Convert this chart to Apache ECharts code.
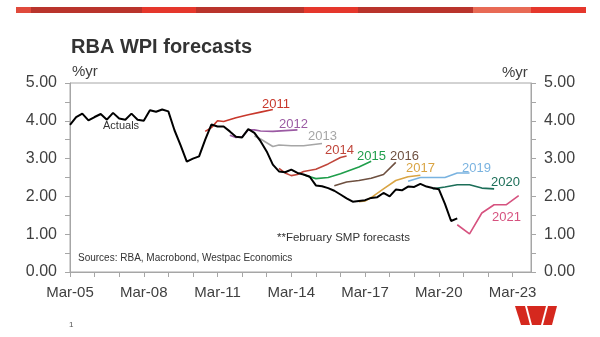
<!DOCTYPE html>
<html>
<head>
<meta charset="utf-8">
<script src="https://cdn.jsdelivr.net/npm/echarts@6/dist/echarts.min.js"></script>
<style>
html,body{margin:0;padding:0;background:#fff;}
#chart{width:600px;height:337px;}
</style>
</head>
<body>
<div id="chart"></div>
<script>
// ---- Data ----
const monthNames = ['Mar', 'Jun', 'Sep', 'Dec'];
const firstYear = 2005;
const lastYear = 2023;
const tickLabels = ['Mar-05', 'Mar-08', 'Mar-11', 'Mar-14', 'Mar-17', 'Mar-20', 'Mar-23'];
const yTicks = [0, 1, 2, 3, 4, 5];

// Actual WPI growth, quarterly from Mar-05
const actuals = [3.89, 4.10, 4.19, 4.01, 4.10, 4.18, 4.03, 4.21, 4.06, 4.03, 4.19, 4.03, 4.00, 4.28, 4.24, 4.30,
  4.25, 3.75, 3.35, 2.92, 3.00, 3.06, 3.50, 3.90, 3.85, 3.85, 3.72, 3.58, 3.56, 3.78, 3.68, 3.46,
  3.19, 2.84, 2.66, 2.64, 2.71, 2.62, 2.58, 2.52, 2.29, 2.27, 2.22, 2.15, 2.05, 1.95, 1.86, 1.88,
  1.90, 1.96, 1.98, 2.09, 2.00, 2.18, 2.16, 2.26, 2.25, 2.33, 2.26, 2.22, 2.19, 1.80, 1.35, 1.42];
const actualsStart = 'Mar-05';

// February SMP forecasts (null = no printed point; line drawn straight across)
const f2011Start = 'Sep-10';
const f2011 = [3.72, 3.82, 4.00, 3.98, null, 4.08, null, 4.16, null, 4.23, null, 4.30];
const f2012Start = 'Sep-11';
const f2012 = [3.62, 3.56, 3.58, 3.76, 3.76, 3.73, null, 3.72, null, null, null, 3.76];
const f2013Start = 'Sep-12';
const f2013 = [3.60, 3.52, 3.42, 3.32, 3.36, null, 3.34, null, 3.34, null, null, 3.40];
const f2014Start = 'Sep-13';
const f2014 = [2.74, 2.62, 2.55, 2.58, 2.66, null, 2.72, null, 2.86, null, 3.03, 3.07];
const f2015Start = 'Sep-14';
const f2015 = [2.57, null, 2.47, null, 2.50, null, 2.60, null, null, 2.78, null, 2.93];
const f2016Start = 'Dec-15';
const f2016 = [2.28, null, 2.38, null, 2.42, null, 2.48, null, 2.58, null, 2.90];
const f2017Start = 'Dec-16';
const f2017 = [1.86, 1.88, 1.97, null, 2.20, null, 2.42, null, 2.52, null, 2.56];
const f2019Start = 'Dec-18';
const f2019 = [2.40, null, 2.50, null, 2.50, null, 2.50, null, 2.62, null, 2.62];
const f2020Start = 'Dec-19';
const f2020 = [2.20, null, 2.25, null, 2.31, null, 2.31, null, 2.22, null, 2.20];
const f2021Start = 'Dec-20';
const f2021 = [1.25, null, 1.01, null, 1.56, null, 1.78, null, 1.78, null, 2.02];

// ---- Build categories ----
const quarters = [];
for (let y = firstYear; y <= lastYear; y++) {
  for (const m of monthNames) quarters.push(m + '-' + String(y % 100).padStart(2, '0'));
}
function place(start, values) {
  const arr = new Array(quarters.length).fill(null);
  const s = quarters.indexOf(start);
  values.forEach((v, i) => { arr[s + i] = v; });
  return arr;
}

const FONT = '"Liberation Sans", Arial, sans-serif';
const axisGray = '#a6a6a6';
const txt = '#404040';

const forecasts = [
  { name: '2011', start: f2011Start, values: f2011, color: '#c8382c' },
  { name: '2012', start: f2012Start, values: f2012, color: '#9b5aa3' },
  { name: '2013', start: f2013Start, values: f2013, color: '#a6a6a6' },
  { name: '2014', start: f2014Start, values: f2014, color: '#c0463b' },
  { name: '2015', start: f2015Start, values: f2015, color: '#1f9e4b' },
  { name: '2016', start: f2016Start, values: f2016, color: '#6e5040' },
  { name: '2017', start: f2017Start, values: f2017, color: '#d9a443' },
  { name: '2019', start: f2019Start, values: f2019, color: '#7ab3e0' },
  { name: '2020', start: f2020Start, values: f2020, color: '#1c6e58' },
  { name: '2021', start: f2021Start, values: f2021, color: '#d6527f' }
];

const series = forecasts.map(f => ({
  name: f.name, type: 'line', data: place(f.start, f.values), connectNulls: true,
  symbol: 'none', lineStyle: { color: f.color, width: 1.6 }, z: 2
}));
series.push({
  name: 'Actuals', type: 'line', data: place(actualsStart, actuals), connectNulls: false,
  symbol: 'none', lineStyle: { color: '#000', width: 2 }, z: 3
});

// label positions (annotation layout)
const labelPos = {
  '2011': [262, 104], '2012': [279, 124], '2013': [308, 136], '2014': [325, 150],
  '2015': [357, 156], '2016': [390, 156], '2017': [406, 168], '2019': [462, 168],
  '2020': [491, 182], '2021': [492, 217]
};

const yAxisCommon = {
  type: 'value', min: 0, max: 5, interval: 1,
  axisLine: { show: true, lineStyle: { color: axisGray, width: 1 } },
  axisTick: { show: true, length: 5, lineStyle: { color: axisGray } },
  minorTick: { show: true, splitNumber: 2, length: 5, lineStyle: { color: axisGray } },
  splitLine: { show: false },
  axisLabel: { color: txt, fontSize: 16, fontFamily: FONT, margin: 13, formatter: v => v.toFixed(2) }
};

const graphics = [];
// top red band
const band = [[16, 31, '#e04a3c'], [31, 142, '#b9342c'], [142, 196, '#e5372c'], [196, 304, '#b9342c'],
  [304, 358, '#e5372c'], [358, 473, '#b9342c'], [473, 531, '#e86a55'], [531, 586, '#e5372c']];
band.forEach(b => graphics.push({ type: 'rect', shape: { x: b[0], y: 7, width: b[1] - b[0], height: 6 }, style: { fill: b[2] }, silent: true }));
// series labels
forecasts.forEach(f => {
  const p = labelPos[f.name];
  graphics.push({ type: 'text', x: p[0], y: p[1], style: { text: f.name, fill: f.color, font: '13px ' + FONT, textVerticalAlign: 'middle' } });
});
graphics.push({ type: 'text', x: 103, y: 126, style: { text: 'Actuals', fill: '#333', font: '11px ' + FONT, textVerticalAlign: 'middle' } });
graphics.push({ type: 'text', x: 277, y: 238, style: { text: '**February SMP forecasts', fill: '#333', font: '11.5px ' + FONT, textVerticalAlign: 'middle' } });
graphics.push({ type: 'text', x: 78, y: 258, style: { text: 'Sources: RBA, Macrobond, Westpac Economics', fill: '#333', font: '10px ' + FONT, textVerticalAlign: 'middle' } });
graphics.push({ type: 'text', x: 72, y: 72, style: { text: '%yr', fill: txt, font: '15px ' + FONT, textVerticalAlign: 'middle' } });
graphics.push({ type: 'text', x: 502, y: 73, style: { text: '%yr', fill: txt, font: '15px ' + FONT, textVerticalAlign: 'middle' } });
graphics.push({ type: 'text', x: 69, y: 325, style: { text: '1', fill: '#555', font: '8px ' + FONT, textVerticalAlign: 'middle' } });
// logo (three slanted pieces forming a W)
const logoRed = '#d5281e';
graphics.push({ type: 'polygon', shape: { points: [[515, 306], [525, 306], [530, 325], [521, 325]] }, style: { fill: logoRed } });
graphics.push({ type: 'polygon', shape: { points: [[527, 306], [546, 306], [541, 325], [532, 325]] }, style: { fill: logoRed } });
graphics.push({ type: 'polygon', shape: { points: [[548, 306], [557, 306], [552, 325], [543, 325]] }, style: { fill: logoRed } });

const option = {
  animation: false,
  backgroundColor: '#fff',
  title: {
    text: 'RBA WPI forecasts', left: 66, top: 32,
    textStyle: { fontSize: 20, fontWeight: 'bold', color: '#333', fontFamily: FONT }
  },
  grid: { left: 70, right: 69, top: 83, bottom: 65, show: true, borderColor: axisGray, borderWidth: 1 },
  xAxis: {
    type: 'category', data: quarters, boundaryGap: false,
    axisLine: { show: true, lineStyle: { color: axisGray, width: 1 } },
    axisTick: { show: true, length: 5, interval: i => i % 4 === 0, lineStyle: { color: axisGray } },
    axisLabel: { color: txt, fontSize: 15, fontFamily: FONT, margin: 13,
      interval: (i, v) => tickLabels.includes(v) },
    splitLine: { show: false }
  },
  yAxis: [
    Object.assign({}, yAxisCommon, { position: 'left' }),
    Object.assign({}, yAxisCommon, { position: 'right' })
  ],
  series: series,
  graphic: graphics
};

const chart = echarts.init(document.getElementById('chart'), null, { renderer: 'canvas' });
chart.setOption(option);
</script>
</body>
</html>
